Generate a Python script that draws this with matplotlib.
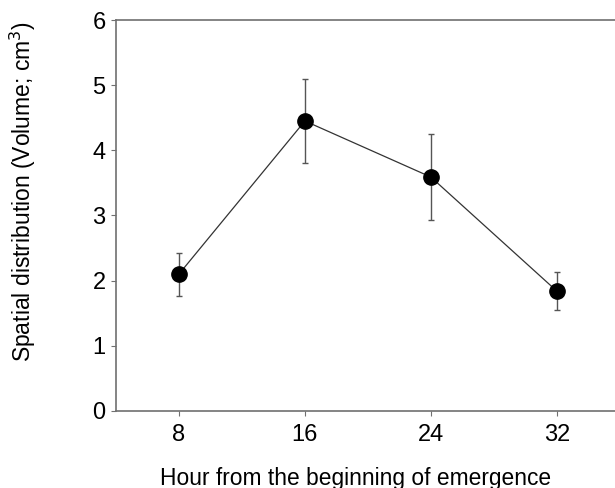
import numpy as np
import matplotlib.pyplot as plt

plt.rcParams['font.family'] = ['Liberation Sans', 'DejaVu Sans']

hours = [8, 16, 24, 32]
volume = [2.10, 4.45, 3.59, 1.84]
err = [0.33, 0.64, 0.66, 0.29]
y_ticks = [0, 1, 2, 3, 4, 5, 6]

fig = plt.figure(figsize=(6.15, 4.88), dpi=100)
ax = fig.add_axes([0.1886, 0.158, 0.8114, 0.801])

ax.errorbar(hours, volume, yerr=err, fmt='none', ecolor='#555555',
            elinewidth=1.0, capsize=2.5, capthick=1.0, zorder=2)
ax.plot(hours, volume, color='#333333', linewidth=0.9, zorder=3)
ax.plot(hours, volume, 'o', color='black', markersize=11, zorder=4)

ax.set_xlim(4, 35.7)
ax.set_ylim(0, 6)
ax.set_xticks(hours)
ax.set_yticks(y_ticks)

for s in ['left', 'bottom', 'top']:
    ax.spines[s].set_color('#707070')
    ax.spines[s].set_linewidth(1.2)
ax.spines['right'].set_visible(False)

ax.tick_params(axis='both', labelsize=17, colors='#707070', labelcolor='black',
               length=3.5, width=0.8, direction='out')
ax.tick_params(axis='y', pad=4)
ax.tick_params(axis='x', pad=6)

# axis titles placed by figure coords to match the original offsets
fig.text(356 / 615, 1 - 478 / 488, 'Hour from the beginning of emergence',
         fontsize=16.4, ha='center', va='center')
fig.text(23 / 615, 1 - 192 / 488, 'Spatial distribution (Volume; cm$^3$)',
         fontsize=16.5, ha='center', va='center', rotation=90)

fig.savefig('out.png', dpi=100)
